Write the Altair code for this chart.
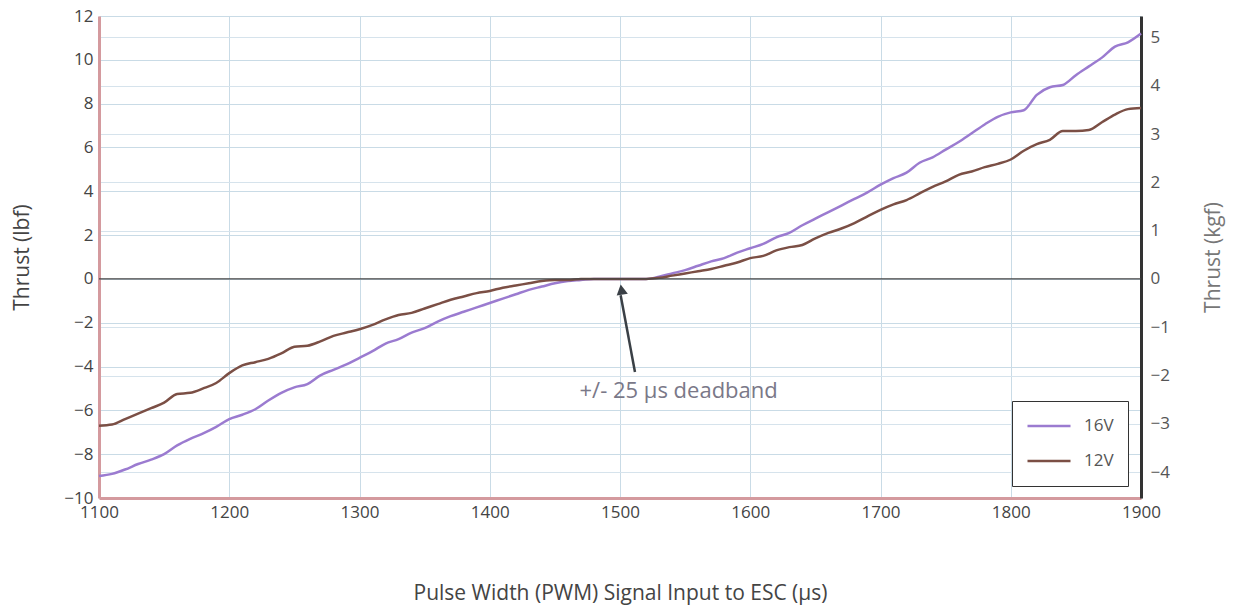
import altair as alt
import pandas as pd

pwm = list(range(1100, 1901, 10))
v16 = [-9.0, -8.9, -8.7, -8.45, -8.25, -8.0, -7.6, -7.3, -7.05, -6.75,
       -6.4, -6.2, -5.95, -5.55, -5.2, -4.95, -4.8, -4.4, -4.15, -3.9,
       -3.6, -3.3, -2.95, -2.75, -2.45, -2.25, -1.95, -1.7, -1.5, -1.3,
       -1.1, -0.9, -0.7, -0.5, -0.35, -0.2, -0.1, -0.05, 0.0, 0.0,
       0.0, 0.0, 0.0, 0.1, 0.25, 0.4, 0.6, 0.8, 0.95, 1.2,
       1.4, 1.6, 1.9, 2.1, 2.45, 2.75, 3.05, 3.35, 3.65, 3.95,
       4.3, 4.6, 4.85, 5.3, 5.55, 5.9, 6.25, 6.65, 7.05, 7.4,
       7.6, 7.7, 8.4, 8.75, 8.85, 9.3, 9.7, 10.1, 10.6, 10.8, 11.2]
v12 = [-6.7, -6.65, -6.4, -6.15, -5.9, -5.65, -5.25, -5.2, -5.0, -4.75,
       -4.3, -3.95, -3.8, -3.65, -3.4, -3.1, -3.05, -2.85, -2.6, -2.45,
       -2.3, -2.1, -1.85, -1.65, -1.55, -1.35, -1.15, -0.95, -0.8, -0.65,
       -0.55, -0.4, -0.3, -0.2, -0.1, -0.05, -0.05, 0.0, 0.0, 0.0,
       0.0, 0.0, 0.0, 0.05, 0.15, 0.25, 0.35, 0.45, 0.6, 0.75,
       0.95, 1.05, 1.3, 1.45, 1.55, 1.85, 2.1, 2.3, 2.55, 2.85,
       3.15, 3.4, 3.6, 3.9, 4.2, 4.45, 4.75, 4.9, 5.1, 5.25,
       5.45, 5.85, 6.15, 6.35, 6.75, 6.75, 6.8, 7.15, 7.5, 7.75, 7.8]
series = ["16V", "12V"]
colors = ["#9b7bd0", "#7b4f45"]

ann_text = "+/- 25 µs deadband"
ann_text_x, ann_text_y = 1545, -5.1
arrow_tail = (1511.5, -4.25)
arrow_head = (1500.5, -0.25)

LBF_DOM = [-10, 12]
KGF_PER_LBF = 0.45359237
KGF_DOM = [LBF_DOM[0] * KGF_PER_LBF, LBF_DOM[1] * KGF_PER_LBF]

rows = []
for name, vals in zip(series, [v16, v12]):
    for x, y in zip(pwm, vals):
        rows.append({"pwm": x, "thrust": y, "series": name})
df = pd.DataFrame(rows)

FONT = "Open Sans"
xscale = alt.Scale(domain=[1100, 1900], nice=False)
yscale = alt.Scale(domain=LBF_DOM, nice=False)

x_enc = alt.X("pwm:Q", scale=xscale,
              axis=alt.Axis(title="Pulse Width (PWM) Signal Input to ESC (µs)",
                            values=list(range(1100, 1901, 100)), format="d",
                            labelFlush=False, labelOverlap=False,
                            grid=True, gridColor="#c9dbe6", gridWidth=1, ticks=False,
                            domainColor="#d49a9e", domainWidth=3,
                            labelFontSize=17, labelColor="#444", labelFont=FONT,
                            labelPadding=6, titleFont=FONT, titleFontSize=21,
                            titleFontWeight="normal", titleColor="#444",
                            titlePadding=62))

lines = alt.Chart(df).mark_line(strokeWidth=2.5, interpolate="monotone").encode(
    x=x_enc,
    y=alt.Y("thrust:Q", scale=yscale,
            axis=alt.Axis(title="Thrust (lbf)", values=list(range(-10, 13, 2)),
                          labelFlush=False, labelOverlap=False,
                          grid=True, gridColor="#c9dbe6", ticks=False,
                          domainColor="#d49a9e", domainWidth=3,
                          labelFontSize=17, labelColor="#444", labelFont=FONT,
                          labelPadding=6, titleFont=FONT, titleFontSize=21,
                          titleFontWeight="normal", titleColor="#444",
                          titlePadding=31)),
    color=alt.Color("series:N", scale=alt.Scale(domain=series, range=colors),
                    legend=alt.Legend(title=None, orient="none", legendX=913,
                                      legendY=385, symbolType="stroke",
                                      symbolStrokeWidth=2.5, symbolSize=1850,
                                      clipHeight=22,
                                      labelFontSize=17, labelFont=FONT,
                                      labelColor="#555", strokeColor="#333",
                                      fillColor="white", padding=14,
                                      rowPadding=13, labelOffset=12)),
)

zero = alt.Chart(pd.DataFrame({"y": [0]})).mark_rule(color="#444", strokeWidth=1.2).encode(
    y=alt.Y("y:Q", scale=yscale))

arrow_df = pd.DataFrame({"x": [arrow_tail[0]], "y": [arrow_tail[1]],
                         "x2": [arrow_head[0]], "y2": [arrow_head[1] - 0.5]})
arrow = alt.Chart(arrow_df).mark_rule(color="#3a4046", strokeWidth=2.5).encode(
    x=alt.X("x:Q", scale=xscale), y=alt.Y("y:Q", scale=yscale),
    x2="x2:Q", y2="y2:Q")
head = alt.Chart(pd.DataFrame({"x": [arrow_head[0]], "y": [arrow_head[1]]})).mark_point(
    shape="M0,0L-0.55,1L0.55,1Z", filled=True, color="#3a4046", size=420, angle=351,
    opacity=1).encode(x=alt.X("x:Q", scale=xscale), y=alt.Y("y:Q", scale=yscale))
text = alt.Chart(pd.DataFrame({"x": [ann_text_x], "y": [ann_text_y], "t": [ann_text]})).mark_text(
    font=FONT, fontSize=22, color="#7a7888", align="center", baseline="middle").encode(
    x=alt.X("x:Q", scale=xscale), y=alt.Y("y:Q", scale=yscale), text="t:N")

left = alt.layer(lines, zero, arrow, head, text)

right = alt.Chart(pd.DataFrame({"k": [0.0]})).mark_point(opacity=0).encode(
    y=alt.Y("k:Q", scale=alt.Scale(domain=KGF_DOM, nice=False),
            axis=alt.Axis(title="Thrust (kgf)", orient="right",
                          values=list(range(-4, 6)), labelFlush=False,
                          grid=True, gridColor="#d6e3ec", ticks=False,
                          domainColor="#333", domainWidth=3,
                          labelFontSize=17, labelColor="#555", labelFont=FONT,
                          labelPadding=9, titleFont=FONT, titleFontSize=21,
                          titleFontWeight="normal", titleColor="#777",
                          titleAngle=270, titlePadding=54)))

chart = alt.layer(right, left).resolve_scale(y="independent").properties(
    width=1042, height=482,
    padding={"left": 91, "top": 8, "right": 91, "bottom": 107},
    autosize=alt.AutoSizeParams(type="none"),
    background="white",
).configure_view(stroke=None)

chart.save("out.html", embed_options={"renderer": "svg", "actions": False})
